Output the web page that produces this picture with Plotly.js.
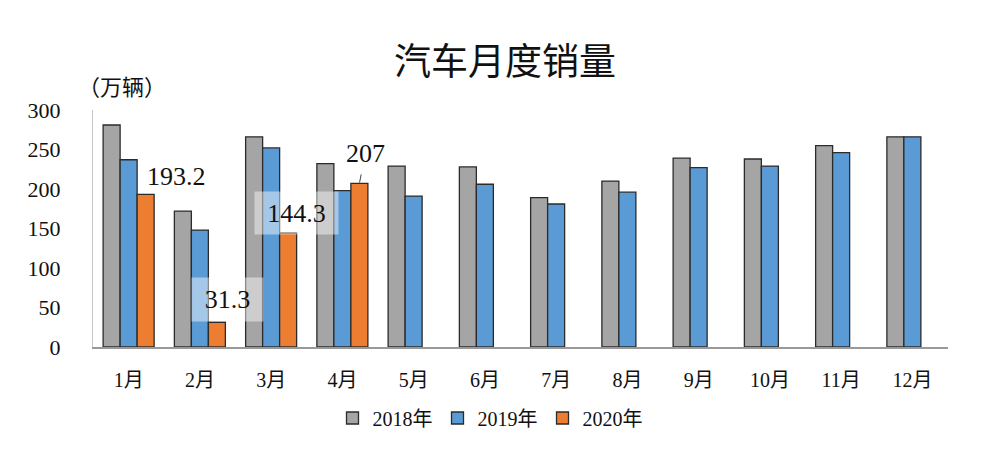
<!DOCTYPE html>
<html>
<head>
<meta charset="utf-8">
<script src="https://cdn.plot.ly/plotly-3.0.1.min.js"></script>
<style>html,body{margin:0;padding:0;background:#fff;}#chart{width:1000px;height:457px;}</style>
</head>
<body>
<div id="chart"></div>
<script>
const months = ['1月','2月','3月','4月','5月','6月','7月','8月','9月','10月','11月','12月'];
const sales2018 = [281, 172, 266, 232, 229, 228, 189, 210, 239, 238, 255, 266];
const sales2019 = [237, 148, 252, 198, 191, 206, 181, 196, 227, 229, 246, 266];
const sales2020 = [193.2, 31.3, 144.3, 207, null, null, null, null, null, null, null, null];
const seriesNames = ['2018年', '2019年', '2020年'];
const yTicks = [0, 50, 100, 150, 200, 250, 300];

const serif = 'Liberation Serif, "Noto Sans CJK SC", serif';
const cjk = '"Noto Sans CJK SC", sans-serif';
const outline = {color: '#2b2b2b', width: 1.3};

const traces = [
  {type: 'bar', name: seriesNames[0], x: months, y: sales2018, marker: {color: '#A5A5A5', line: outline}},
  {type: 'bar', name: seriesNames[1], x: months, y: sales2019, marker: {color: '#5B9BD5', line: outline}},
  {type: 'bar', name: seriesNames[2], x: months, y: sales2020, marker: {color: '#ED7D31', line: outline}}
];

const labelFont = {family: serif, size: 26, color: '#111'};
const annotations = [
  {xref: 'paper', yref: 'paper', x: -0.02, y: 1.105, xanchor: 'left', yanchor: 'middle',
   text: '（万辆）', showarrow: false, font: {family: cjk, size: 22, color: '#111'}},
  {x: months[0], y: sales2020[0], text: String(sales2020[0]), showarrow: false,
   xanchor: 'center', yanchor: 'middle', xshift: 48, yshift: 18, font: labelFont},
  {x: months[1], y: sales2020[1], text: String(sales2020[1]), showarrow: false,
   xanchor: 'center', yanchor: 'middle', xshift: 28, yshift: 23, font: labelFont,
   bgcolor: 'rgba(255,255,255,0.45)', width: 69, height: 41},
  {x: months[2], y: sales2020[2], text: String(sales2020[2]), showarrow: false,
   xanchor: 'center', yanchor: 'middle', xshift: 25, yshift: 20, font: labelFont,
   bgcolor: 'rgba(255,255,255,0.45)', width: 81, height: 40},
  {x: months[3], y: sales2020[3], text: String(sales2020[3]), showarrow: true,
   arrowhead: 0, arrowwidth: 1, arrowcolor: '#444', ax: 6, ay: -30, xshift: 17,
   standoff: 1, startstandoff: 5, font: labelFont}
];

const layout = {
  width: 1000, height: 457,
  paper_bgcolor: '#fff', plot_bgcolor: '#fff',
  margin: {l: 93, r: 52, t: 110, b: 110},
  title: {text: '汽车月度销量', font: {family: cjk, size: 37, color: '#111'},
          x: 0.505, xanchor: 'center', y: 1 - 62/457, yanchor: 'middle', yref: 'container'},
  barmode: 'group', bargap: 0.284, bargroupgap: 0,
  xaxis: {type: 'category', showline: true, linecolor: '#999', linewidth: 1.5,
          showgrid: false, zeroline: false, ticks: 'outside', ticklen: 14, tickcolor: 'rgba(0,0,0,0)',
          tickfont: {family: serif, size: 20, color: '#111'}},
  yaxis: {range: [0, 300], tickvals: yTicks, showline: true, linecolor: '#c8c8c8', linewidth: 1,
          showgrid: false, zeroline: false, ticks: 'outside', ticklen: 27, tickcolor: 'rgba(0,0,0,0)',
          tickfont: {family: serif, size: 22, color: '#111'}},
  showlegend: true,
  legend: {orientation: 'h', xref: 'container', yref: 'container', x: 0.49, xanchor: 'center',
           y: 1 - 418/457, yanchor: 'middle', font: {family: serif, size: 20, color: '#111'},
           itemwidth: 30, tracegroupgap: 0},
  annotations: annotations
};

Plotly.newPlot('chart', traces, layout, {displayModeBar: false, staticPlot: true});
</script>
</body>
</html>
